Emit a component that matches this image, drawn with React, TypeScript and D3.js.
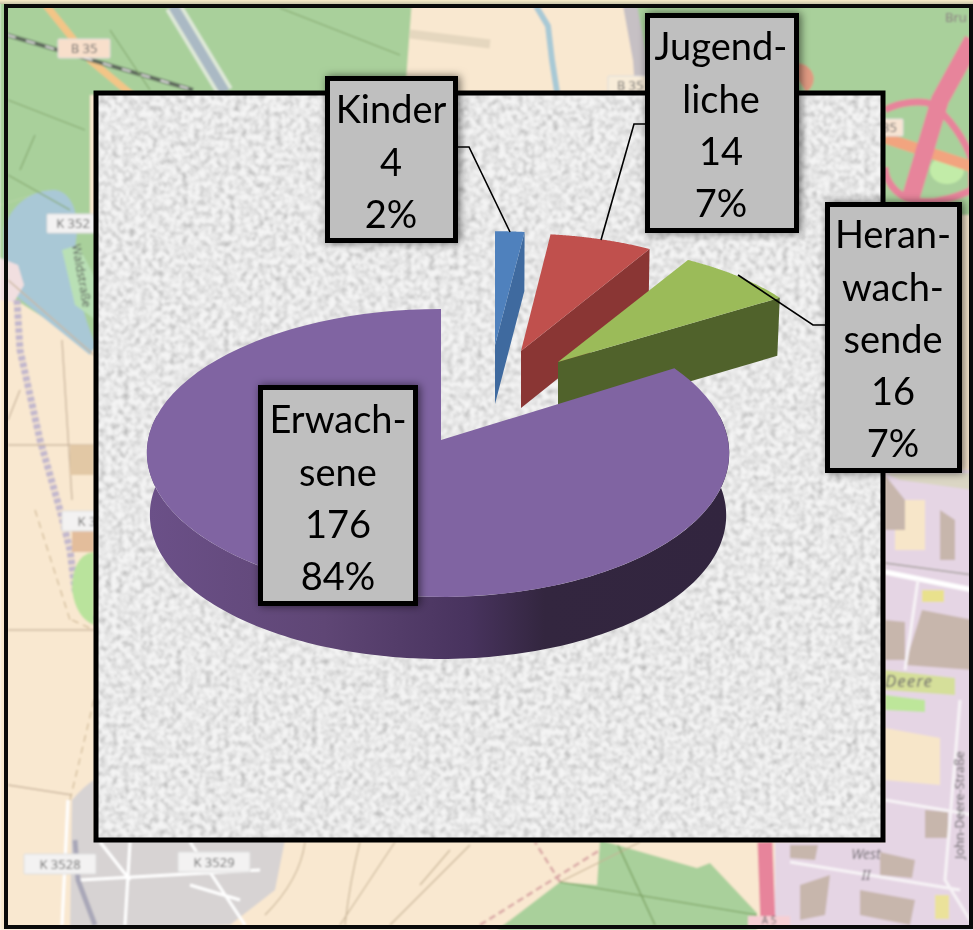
import React from "react";
import * as d3 from "d3";

const categories = ["Kinder", "Jugendliche", "Heranwachsende", "Erwachsene"];
const values = [4, 14, 16, 176];
const labelNames = [["Kinder"], ["Jugend-", "liche"], ["Heran-", "wach-", "sende"], ["Erwach-", "sene"]];
const percents = ["2%", "7%", "7%", "84%"];
const topColors = ["#4f81bd", "#c0504d", "#9bbb59", "#8064a2"];
const sideColors = ["#3f6a9f", "#8a3634", "#50622b", "#5c4471"];

type Plane = { ax: number; ay: number; R: number; Q: number; h: number; R2: number };
const K = 0.09;
const planes: Plane[] = [
  { ax: 495, ay: 345, R: 270, Q: 124, h: 59, R2: 268 },
  { ax: 521, ay: 351, R: 270, Q: 128, h: 57, R2: 268 },
  { ax: 558, ay: 362, R: 273, Q: 128, h: 58, R2: 270 },
  { ax: 441, ay: 440, R: 290, Q: 142.8, h: 62, R2: 287 },
];
const boxes = [
  { x: 327.5, y: 78.5, w: 128, h: 162, lines: 110, tx: 391 },
  { x: 647.5, y: 15.5, w: 149, h: 215, lines: 47, tx: 721 },
  { x: 827.5, y: 204.5, w: 132, h: 266, lines: 235, tx: 893 },
  { x: 260.5, y: 387.5, w: 155, h: 216, lines: 420, tx: 338 },
];
const leaders: [number, number][][] = [
  [[457, 147], [469, 147], [510, 232]],
  [[645, 124], [634, 124], [601, 240]],
  [[738, 275], [813, 325], [826, 325]],
];

const pie = d3.pie<number>().sort(null).startAngle(0).endAngle(2 * Math.PI);
const arcs = pie(values);

function proj(t: number, p: Plane, lower = false): [number, number] {
  const u = Math.sin(t), v = Math.cos(t), s = 1 / (1 + K * v);
  const R = lower ? p.R2 : p.R;
  const tilt = p.R > 280 ? 3 * u * u : 0;
  return [p.ax + R * u * s - tilt, p.ay + (lower ? p.h : 0) - p.Q * v * s];
}
const line = d3.line().curve(d3.curveLinear);
const samples = (a: number, b: number, n = 90) => d3.range(n + 1).map((i) => a + ((b - a) * i) / n);

function topPath(i: number) {
  const p = planes[i];
  const a = arcs[i];
  return line([[p.ax, p.ay], ...samples(a.startAngle, a.endAngle).map((t) => proj(t, p))]) + "Z";
}
function facePath(i: number) {
  const p = planes[i];
  const e = arcs[i].endAngle;
  return line([[p.ax, p.ay], proj(e, p), proj(e, p, true), [p.ax, p.ay + p.h]]) + "Z";
}
function wallPath(i: number) {
  const p = planes[i];
  const s = samples((80 * Math.PI) / 180, (280 * Math.PI) / 180, 160);
  return line([...s.map((t) => proj(t, p)), ...s.slice().reverse().map((t) => proj(t, p, true))]) + "Z";
}

const F = "Lato, Carlito, 'Open Sans', sans-serif";
const mapFont = "'Noto Sans', 'DejaVu Sans', sans-serif";

function Shield({ x, y, w, h, t, fill = "#f3f2f2" }: any) {
  return (
    <g>
      <rect x={x} y={y} width={w} height={h} fill={fill} stroke="#ddd" rx={1} />
      <text x={x + w / 2} y={y + h / 2 + 4.5} textAnchor="middle" fontSize={13} fill="#666" fontFamily={mapFont}>{t}</text>
    </g>
  );
}

function MapBackground() {
  const green = "#a9d09b", beige = "#f9e8d0", lilac = "#e5d5e4", brown = "#c7b6ac", pink = "#e7849b";
  return (
    <g filter="url(#mapBlur)">
      <rect x={0} y={0} width={973} height={930} fill={beige} />
      {/* forests */}
      <polygon points="0,0 412,0 405,95 90,95 90,250 50,190 0,205" fill={green} />
      <polygon points="0,205 50,190 95,220 95,350 0,290" fill={green} />
      <polygon points="635,0 973,0 973,215 820,215 635,100" fill={green} />
      <polygon points="497,930 560,882 597,885 600,840 697,868 710,863 757,913 757,930" fill={green} />
      {/* lake */}
      <path d="M4,228 C12,205 30,190 55,190 C72,192 80,215 76,240 C72,265 80,310 96,345 L90,355 L15,295 L4,290 Z" fill="#a9c8d6" />
      <path d="M0,258 L18,265 L24,285 L14,302 L0,300 Z" fill="#f1dfe0" />
      <polygon points="62,250 78,245 96,280 96,320 75,305" fill="#b9e0b5" />
      {/* top roads */}
      <path d="M45,4 L90,60 L132,95" stroke="#f3c587" strokeWidth={7} fill="none" />
      <path d="M7,35 L193,90" stroke="#5f6a5d" strokeWidth={4} fill="none" />
      <path d="M7,35 L193,90" stroke="#eee" strokeWidth={1.6} strokeDasharray="9 11" fill="none" />
      <path d="M173,6 L225,92" stroke="#dfe9d8" strokeWidth={17} fill="none" />
      <path d="M173,6 L225,92" stroke="#aab9c4" strokeWidth={10} fill="none" />
      <path d="M410,34 L490,44" stroke="#e5d7bf" strokeWidth={9} fill="none" />
      <path d="M536,6 L548,26 L552,60 L557,92" stroke="#a8c9d5" strokeWidth={6} fill="none" />
      <path d="M630,5 L640,60 L642,90" stroke="#c6c0c4" strokeWidth={14} fill="none" />
      <path d="M790,66 A14,14 0 0 1 806,92" stroke="#e09a82" fill="#e09a82" strokeWidth={1} />
      {/* forest paths */}
      <path d="M8,100 L85,130 M8,175 L70,210 M110,30 L150,90 M280,8 L400,55 M35,135 L20,170" stroke="#86a86f" strokeWidth={1.2} fill="none" />
      {/* interchange */}
      <path d="M885,110 C900,102 920,100 932,104 C950,118 965,140 972,160 L972,190 C950,200 930,205 912,200 C895,195 885,180 885,167" stroke={pink} strokeWidth={7} fill="#a9d09b" />
      <ellipse cx={947} cy={170} rx={17} ry={14} fill="#c2eca8" />
      <path d="M885,138 L973,167" stroke="#f2a47f" strokeWidth={11} fill="none" />
      <path d="M973,40 L940,100 L910,200" stroke={pink} strokeWidth={18} fill="none" />
      {/* lower left paths */}
      <path d="M17,300 L20,350 L40,440 L60,510 L70,550 L75,590 L94,620" stroke="#c3b8cd" strokeWidth={7} strokeDasharray="5 2" fill="none" />
      <path d="M8,280 L94,355 M8,445 L94,445 M8,630 L94,630 M62,340 L72,500 M8,785 L72,795 M20,390 L8,420" stroke="#cbb79f" strokeWidth={1.4} fill="none" />
      <path d="M35,510 L70,620 M72,620 L94,630 M94,700 L70,800" stroke="#cdb793" strokeWidth={1.2} strokeDasharray="7 5" fill="none" />
      <rect x={70} y={445} width={24} height={30} fill="#e2c8a5" />
      <rect x={72} y={530} width={22} height={22} fill="#e3bd9b" />
      <path d="M72,590 Q72,555 94,552 L94,625 Q76,618 72,590 Z" fill="#b9e39c" />
      {/* village */}
      <path d="M72,800 Q85,785 94,780 L94,840 L285,840 L275,890 L230,925 L70,930 Z" fill="#d7d3d3" />
      <path d="M68,800 L62,925 M130,842 L125,925 M80,880 L260,870 M190,842 L245,925 M100,842 L130,880 M190,885 L240,900" stroke="#fff" strokeWidth={3} fill="none" />
      <path d="M75,840 L78,880 L95,925" stroke="#a9a7b8" strokeWidth={5} fill="none" />
      {/* bottom middle */}
      <path d="M305,842 Q300,880 265,915 M360,842 Q350,880 345,925 M395,842 L340,925 M470,845 L390,925 M450,850 L420,885 M560,882 L640,842" stroke="#c8b597" strokeWidth={1.2} fill="none" />
      <path d="M480,925 L600,850 M560,882 L535,842" stroke="#d9a7a5" strokeWidth={2.5} strokeDasharray="7 4" fill="none" />
      <path d="M618,845 L655,925 M560,882 L757,915" stroke="#749a58" strokeWidth={1.2} fill="none" />
      {/* industrial */}
      <polygon points="775,842 885,842 885,560 973,560 973,930 775,930" fill={lilac} />
      <polygon points="885,470 973,470 973,580 885,565" fill={lilac} />
      <polygon points="895,500 925,500 925,550 895,550" fill="#f7e6c9" />
      <polygon points="885,475 905,500 905,530 885,530" fill={brown} />
      <polygon points="940,510 955,520 955,560 940,560" fill={brown} />
      <polygon points="885,473 973,473 973,490 900,480" fill="#dbd6c4" />
      <path d="M885,572 L973,590" stroke="#fff" strokeWidth={5} fill="none" />
      <path d="M885,563 L973,575" stroke="#a7a29e" strokeWidth={1.3} fill="none" />
      <polygon points="885,620 905,622 905,660 885,660" fill={brown} />
      <polygon points="922,610 973,620 973,670 905,665" fill={brown} />
      <rect x={922} y={590} width={22} height={12} fill="#e9e18d" />
      <polygon points="885,670 955,678 955,695 885,690" fill="#d5df9a" />
      <polygon points="885,695 925,700 925,712 885,710" fill="#bde69a" />
      <polygon points="885,728 940,738 940,785 885,780" fill="#f7e6c9" />
      <polygon points="925,810 948,812 948,838 925,838" fill={brown} />
      <path d="M885,800 L973,815 M790,862 L960,890 M960,700 L945,880 L973,925 M918,580 L905,670" stroke="#f7f3f6" strokeWidth={3} fill="none" />
      <polygon points="790,845 818,845 815,860 790,858" fill={brown} />
      <polygon points="880,852 915,860 912,878 880,875" fill={brown} />
      <polygon points="800,885 830,875 825,915 800,920" fill={brown} />
      <polygon points="860,890 915,900 910,925 860,915" fill={brown} />
      <rect x={935} y={895} width={14} height={24} fill="#ebe29a" />
      <path d="M765,842 L768,925" stroke={pink} strokeWidth={15} fill="none" />
      <rect x={748} y={916} width={42} height={12} fill="#f6cfd4" />
      {/* map labels */}
      <Shield x={58} y={39} w={52} h={19} t="B 35" fill="#f8dfcb" />
      <Shield x={47} y={214} w={52} h={19} t="K 352" />
      <Shield x={62} y={511} w={50} h={20} t="K 3" />
      <Shield x={24} y={854} w={72} h={20} t="K 3528" />
      <Shield x={178} y={852} w={72} h={20} t="K 3529" />
      <Shield x={608} y={76} w={44} h={18} t="B 35" fill="#f8ecd9" />
      <Shield x={876} y={119} w={27} h={17} t="35" fill="#f8e4d3" />
      <text x={0} y={0} transform="translate(72,245) rotate(80)" fontSize={12} fill="#555" fontFamily={mapFont}>Waldstraße</text>
      <text x={945} y={22} fontSize={13} fill="#8a7680" fontFamily={mapFont}>Bru</text>
      <text x={909} y={687} textAnchor="middle" fontSize={17} fontStyle="italic" fill="#6f6b6f" fontFamily={mapFont} letterSpacing={1}>Deere</text>
      <text x={866} y={859} textAnchor="middle" fontSize={14} fontStyle="italic" fill="#6f6b6f" fontFamily={mapFont}>West</text>
      <text x={866} y={880} textAnchor="middle" fontSize={14} fontStyle="italic" fill="#6f6b6f" fontFamily={mapFont}>II</text>
      <text transform="translate(964,859) rotate(-90)" fontSize={12.5} fill="#555" fontFamily={mapFont}>John-Deere-Straße</text>
      <text x={769} y={924} textAnchor="middle" fontSize={10} fill="#666" fontFamily={mapFont}>A 5</text>
    </g>
  );
}

export default function App() {
  return (
    <svg width={973} height={930} viewBox="0 0 973 930" style={{ position: "fixed", left: 0, top: 0, display: "block" }}>
      <defs>
        <filter id="mapBlur" x="0" y="0" width="100%" height="100%"><feGaussianBlur stdDeviation="0.8" /></filter>
        <filter id="speckle" x="0" y="0" width="100%" height="100%">
          <feTurbulence type="fractalNoise" baseFrequency="0.17" numOctaves={3} seed={7} result="n" />
          <feColorMatrix in="n" type="matrix" values="0 0 0 0 0  0 0 0 0 0  0 0 0 0 0  1.3 1.3 0 0 -1.05" result="a" />
          <feGaussianBlur in="a" stdDeviation="0.8" result="b" />
          <feFlood floodColor="#b8b8b8" />
          <feComposite in2="b" operator="in" result="d" />
          <feMerge><feMergeNode in="SourceGraphic" /><feMergeNode in="d" /></feMerge>
        </filter>
        <filter id="boxShadow" x="-20%" y="-20%" width="140%" height="140%">
          <feDropShadow dx={2} dy={0} stdDeviation={4} floodColor="#000" floodOpacity={0.55} />
        </filter>
        <linearGradient id="wall" gradientUnits="userSpaceOnUse" x1={150} x2={730} y1={0} y2={0}>
          <stop offset="0" stopColor="#6b5088" />
          <stop offset="0.3" stopColor="#5f4675" />
          <stop offset="0.55" stopColor="#48335e" />
          <stop offset="0.68" stopColor="#33263f" />
          <stop offset="1" stopColor="#32253f" />
        </linearGradient>
        <linearGradient id="glow" x1="0" x2="0" y1="0" y2="1">
          <stop offset="0" stopColor="#f8ecc8" />
          <stop offset="1" stopColor="#c9c4a8" />
        </linearGradient>
      </defs>

      <MapBackground />
      {/* outer frame */}
      <rect x={0} y={0} width={973} height={4} fill="url(#glow)" />
      <rect x={6} y={6} width={965} height={921} fill="none" stroke="#0a0a0a" strokeWidth={4} />

      {/* panel */}
      <rect x={96} y={93} width={787} height={747} fill="#f4f4f4" stroke="none" filter="url(#speckle)" />
      <rect x={96} y={93} width={787} height={747} fill="none" stroke="#000" strokeWidth={5} />

      {/* pie slices, back to front */}
      {values.map((_, i) => {
        const isMain = i === values.length - 1;
        return (
          <g key={categories[i]}>
            {isMain ? (
              <path d={wallPath(i)} fill="url(#wall)" />
            ) : (
              <path d={facePath(i)} fill={sideColors[i]} />
            )}
            <path d={topPath(i)} fill={topColors[i]} />
          </g>
        );
      })}

      {/* leader lines */}
      {leaders.map((l, i) => (
        <path key={i} d={line(l) as string} fill="none" stroke="#000" strokeWidth={1.6} />
      ))}

      {/* data labels */}
      {boxes.map((b, i) => {
        const rows = [...labelNames[i], String(values[i]), percents[i]];
        return (
          <g key={i}>
            <rect x={b.x} y={b.y} width={b.w} height={b.h} fill="#bfbfbf" stroke="#000" strokeWidth={5} filter="url(#boxShadow)" />
            {rows.map((r, j) => (
              <text key={j} x={b.tx} y={b.lines + j * 52.2} dy="0.35em" textAnchor="middle" fontSize={38} fill="#000" fontFamily={F}>{r}</text>
            ))}
          </g>
        );
      })}
    </svg>
  );
}
